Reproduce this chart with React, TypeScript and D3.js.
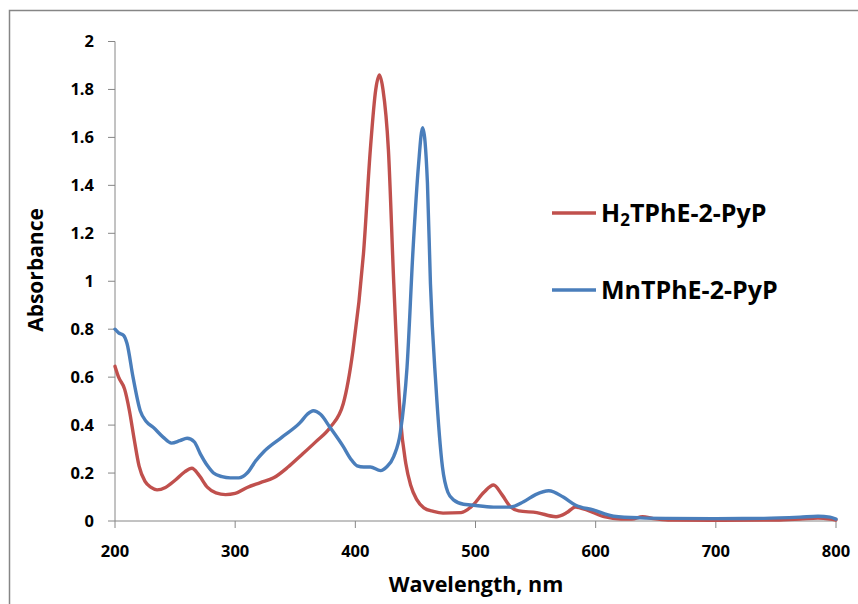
import React from "react";
import * as d3 from "d3";

const redWl = [200, 203, 208, 212, 216, 220, 225, 230, 235, 242, 250, 258, 264, 270, 277, 284, 292, 300, 310, 321, 332, 344, 354, 367, 379, 390, 398, 407, 412.5, 417, 420, 423, 427.5, 432, 437.5, 442, 446, 451, 457, 465, 473, 488, 498, 507, 515, 522, 529, 536, 551, 567, 576, 583, 593, 607, 621, 630, 639, 648, 660, 700, 750, 770, 785, 795, 800];
const redAbs = [0.645, 0.6, 0.55, 0.46, 0.34, 0.23, 0.165, 0.14, 0.13, 0.14, 0.17, 0.205, 0.22, 0.19, 0.14, 0.117, 0.11, 0.115, 0.14, 0.16, 0.18, 0.225, 0.27, 0.33, 0.39, 0.49, 0.71, 1.13, 1.55, 1.8, 1.86, 1.8, 1.55, 0.99, 0.43, 0.24, 0.15, 0.09, 0.055, 0.04, 0.033, 0.035, 0.067, 0.12, 0.15, 0.11, 0.06, 0.042, 0.035, 0.018, 0.035, 0.058, 0.045, 0.018, 0.008, 0.008, 0.018, 0.01, 0.004, 0.003, 0.004, 0.008, 0.012, 0.008, 0.004];

const blueWl = [200, 203, 207, 210, 215, 221, 226, 232, 240, 247, 254, 260, 266, 271, 277, 282, 289, 296, 303, 310, 317, 324, 339, 354, 360, 365, 371, 379, 390, 396, 401.5, 407, 412.5, 421, 426, 432, 437.5, 443, 448, 452.5, 456, 460, 462.5, 467, 472.5, 477, 482, 490, 496, 515, 529, 540, 550, 561, 573, 583, 598, 615, 637.5, 660, 700, 740, 770, 785, 795, 800];
const blueAbs = [0.8, 0.785, 0.775, 0.74, 0.6, 0.46, 0.415, 0.39, 0.35, 0.325, 0.335, 0.345, 0.33, 0.28, 0.23, 0.2, 0.185, 0.18, 0.18, 0.2, 0.25, 0.29, 0.35, 0.41, 0.445, 0.46, 0.445, 0.39, 0.31, 0.26, 0.23, 0.225, 0.225, 0.21, 0.225, 0.27, 0.37, 0.64, 1.13, 1.48, 1.64, 1.41, 0.99, 0.57, 0.225, 0.12, 0.087, 0.07, 0.067, 0.058, 0.058, 0.08, 0.11, 0.126, 0.1, 0.067, 0.046, 0.02, 0.013, 0.011, 0.01, 0.011, 0.016, 0.02, 0.016, 0.008];

const xTicks = [200, 300, 400, 500, 600, 700, 800];
const yTicks = [0, 0.2, 0.4, 0.6, 0.8, 1, 1.2, 1.4, 1.6, 1.8, 2];

const seriesNames = ["H\u2082TPhE-2-PyP", "MnTPhE-2-PyP"];
const seriesColors = ["#C0504D", "#4A7EBB"];

const FONT = "'Open Sans', 'DejaVu Sans', sans-serif";
const AXIS = "#868686";

export default function App() {
  const x = d3.scaleLinear().domain([200, 800]).range([115, 836]);
  const y = d3.scaleLinear().domain([0, 2]).range([521, 41.5]);
  const line = d3
    .line<[number, number]>()
    .x((d) => x(d[0]))
    .y((d) => y(d[1]))
    .curve(d3.curveMonotoneX);
  const redData = redWl.map((w, i) => [w, redAbs[i]] as [number, number]);
  const blueData = blueWl.map((w, i) => [w, blueAbs[i]] as [number, number]);
  const fmt = (v: number) => String(+v.toFixed(1));

  return (
    <div style={{ position: "absolute", left: 0, top: 0 }}>
      <svg width={858} height={604} style={{ display: "block", background: "#fff" }}>
        <rect x={9.5} y={10.5} width={900} height={700} fill="#fff" stroke={AXIS} strokeWidth={1.5} />
        {/* y axis */}
        <line x1={115} x2={115} y1={y(2)} y2={y(0)} stroke={AXIS} strokeWidth={1} />
        {yTicks.map((t) => (
          <g key={"y" + t}>
            <line x1={108} x2={115} y1={y(t)} y2={y(t)} stroke={AXIS} />
            <text x={94} y={y(t)} dy="0.35em" textAnchor="end" fontFamily={FONT} fontWeight="bold" fontSize={16.5} fill="#000">
              {fmt(t)}
            </text>
          </g>
        ))}
        {/* x axis */}
        <line x1={x(200)} x2={x(800)} y1={y(0)} y2={y(0)} stroke={AXIS} />
        {xTicks.map((t) => (
          <g key={"x" + t}>
            <line x1={x(t)} x2={x(t)} y1={y(0)} y2={y(0) + 7} stroke={AXIS} />
            <text x={x(t)} y={551} dy="0.35em" textAnchor="middle" fontFamily={FONT} fontWeight="bold" fontSize={16.5} fill="#000">
              {t}
            </text>
          </g>
        ))}
        <path d={line(redData) || ""} fill="none" stroke={seriesColors[0]} strokeWidth={3.4} strokeLinejoin="round" strokeLinecap="round" />
        <path d={line(blueData) || ""} fill="none" stroke={seriesColors[1]} strokeWidth={3.4} strokeLinejoin="round" strokeLinecap="round" />
        {/* axis titles */}
        <text x={476} y={584} dy="0.35em" textAnchor="middle" fontFamily={FONT} fontWeight="bold" fontSize={21.5} fill="#000">
          Wavelength, nm
        </text>
        <text transform={`translate(36,270) rotate(-90)`} dy="0.35em" textAnchor="middle" fontFamily={FONT} fontWeight="bold" fontSize={21} fill="#000">
          Absorbance
        </text>
        {/* legend */}
        {[0, 1].map((i) => {
          const ly = 213 + i * 77;
          return (
            <g key={"l" + i}>
              <line x1={552} x2={596} y1={ly} y2={ly} stroke={seriesColors[i]} strokeWidth={3.4} />
              <text x={601} y={ly} dy="0.35em" fontFamily={FONT} fontWeight="bold" fontSize={25} fill="#000">
                {i === 0 ? (
                  <>
                    <tspan>H</tspan>
                    <tspan fontSize={17} dy={4}>2</tspan>
                    <tspan dy={-4}>TPhE-2-PyP</tspan>
                  </>
                ) : (
                  seriesNames[1]
                )}
              </text>
            </g>
          );
        })}
      </svg>
    </div>
  );
}
